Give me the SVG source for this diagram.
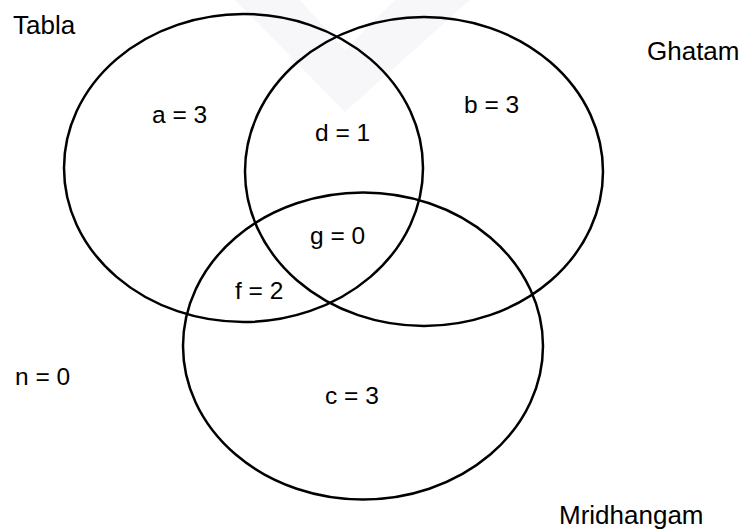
<svg xmlns="http://www.w3.org/2000/svg" width="742" height="531" viewBox="0 0 742 531">
<style>
.set{fill:none;stroke:#000;stroke-width:2.5}
.name{font-family:"Liberation Sans",Arial,sans-serif;font-size:26px;fill:#000}
.lbl{font-family:"Liberation Sans",Arial,sans-serif;font-size:24.5px;fill:#000}
</style>
<rect width="742" height="531" fill="#fff"/>
<path d="M235,0 L300,0 L345,50 L395,0 L470,0 L345,112 Z" fill="#f7f6f9"/>
<g id="connectors"></g>
<g id="tabla">
<ellipse class="set" cx="243.5" cy="168" rx="179.5" ry="154"/>
<text class="name" x="13" y="34">Tabla</text>
</g>
<g id="ghatam">
<ellipse class="set" cx="424" cy="171.5" rx="179" ry="154.5"/>
<text class="name" x="647" y="60">Ghatam</text>
</g>
<g id="mridhangam">
<ellipse class="set" cx="363" cy="346" rx="180" ry="153.5"/>
<text class="name" x="559" y="524">Mridhangam</text>
</g>
<g id="labels">
<text class="lbl" x="152" y="123">a = 3</text>
<text class="lbl" x="315" y="141">d = 1</text>
<text class="lbl" x="464" y="113">b = 3</text>
<text class="lbl" x="310" y="244">g = 0</text>
<text class="lbl" x="235" y="299">f = 2</text>
<text class="lbl" x="15" y="385">n = 0</text>
<text class="lbl" x="325" y="404">c = 3</text>
</g>
</svg>
